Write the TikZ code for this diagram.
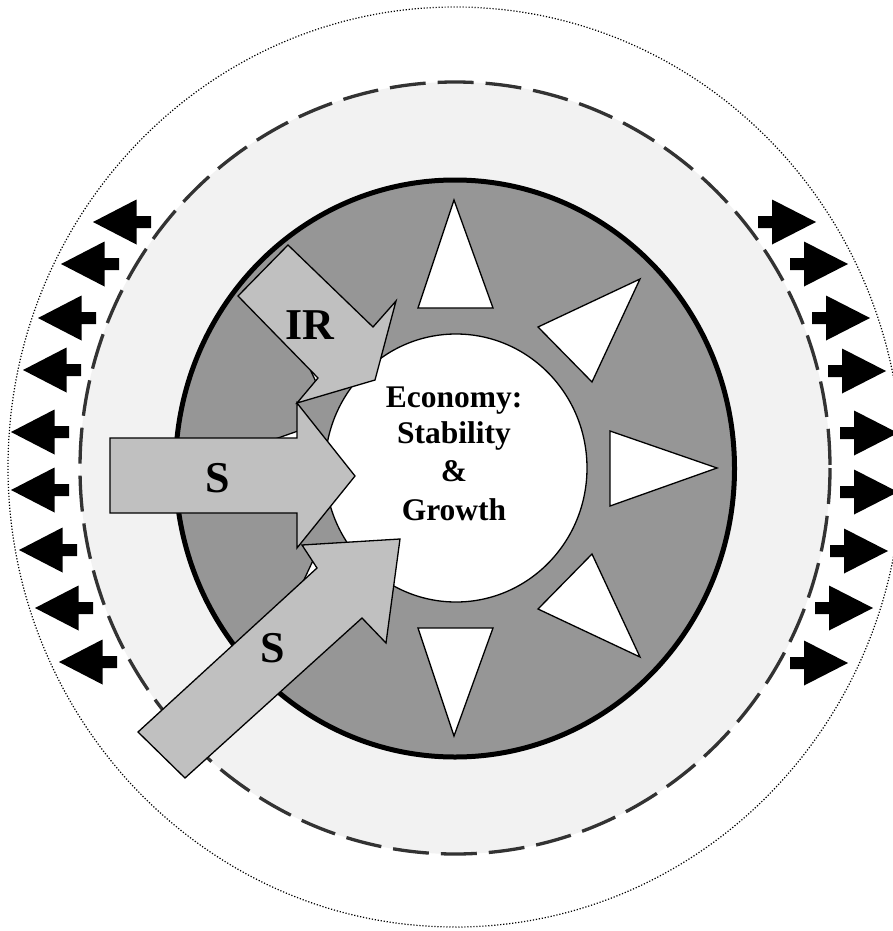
\documentclass[tikz,border=0pt]{standalone}
\usepackage{fontspec}
\setmainfont{Liberation Serif}
\definecolor{ringgray}{HTML}{F2F2F2}
\definecolor{diskgray}{HTML}{969696}
\definecolor{arrowgray}{HTML}{C0C0C0}
\definecolor{dashgray}{HTML}{333333}
\begin{document}
\begin{tikzpicture}[x=1pt,y=-1pt,
  dotring/.style={draw=black, line width=1.2pt, dash pattern=on 1.2pt off 1.8pt},
  dashring/.style={fill=ringgray, draw=dashgray, line width=3.3pt, dash pattern=on 36pt off 12pt},
  diskstyle/.style={fill=diskgray, draw=black, line width=5pt},
  corestyle/.style={fill=white, draw=black, line width=1.3pt},
  sunray/.style={fill=white, draw=black, line width=1.3pt, line join=miter},
  bigarrow/.style={fill=arrowgray, draw=black, line width=1.3pt, line join=miter},
  smallarrow/.style={fill=black},
  lbl/.style={font=\bfseries\fontsize{44}{44}\selectfont, anchor=base, inner sep=0pt},
  ctr/.style={font=\bfseries\fontsize{31.5}{31.5}\selectfont, anchor=base, inner sep=0pt}]
\clip (0,0) rectangle (893,931);
\fill[white] (0,0) rectangle (893,931);
% rings
\draw[dotring] (455,467) ellipse [x radius=447, y radius=460];
\filldraw[dashring] (455,468) ellipse [x radius=375, y radius=386];
\filldraw[diskstyle] (455,468.5) ellipse [x radius=279.5, y radius=288.5];
\filldraw[corestyle] (456,468) ellipse [x radius=131, y radius=134];
% sun rays
\filldraw[sunray] (454,200) -- (418,308) -- (493,308) -- cycle;
\filldraw[sunray] (640,279) -- (538,327) -- (592,382) -- cycle;
\filldraw[sunray] (717,468) -- (610,431) -- (610,506) -- cycle;
\filldraw[sunray] (640,657) -- (538,609) -- (592,554) -- cycle;
\filldraw[sunray] (454,736) -- (418,628) -- (493,628) -- cycle;
\filldraw[sunray] (268,279) -- (370,327) -- (316,382) -- cycle;
\filldraw[sunray] (192,468) -- (298,431) -- (298,506) -- cycle;
\filldraw[sunray] (268,657) -- (370,609) -- (316,554) -- cycle;
% big arrows
\filldraw[bigarrow] (238,296) -- (288,245) -- (373,327) -- (396,301) -- (375,380) -- (297,403) -- (318,378) -- cycle;
\filldraw[bigarrow] (110,438) -- (297,438) -- (297,403) -- (355,476) -- (297,548) -- (297,513) -- (110,513) -- cycle;
\filldraw[bigarrow] (138,732) -- (317,568) -- (302,545) -- (400,539) -- (386,643) -- (362,618) -- (185,778) -- cycle;
% small arrows left
\foreach \x/\y in {93/222, 61/264, 38/318, 23/370, 11/432, 11/490, 19/550, 35/608, 59/662}
  \fill[smallarrow] (\x,\y) -- ++(43.5,-22.5) -- ++(0,16.5) -- ++(14.5,0) -- ++(0,12) -- ++(-14.5,0) -- ++(0,16.5) -- cycle;
% small arrows right
\foreach \x/\y in {816/222, 848/264, 870/318, 886/371, 898/433, 898/492, 888/551, 873/608, 848/663}
  \fill[smallarrow] (\x,\y) -- ++(-44,-22.5) -- ++(0,16.5) -- ++(-14,0) -- ++(0,12) -- ++(14,0) -- ++(0,16.5) -- cycle;
% labels
\node[lbl] (ir) at (310,339) {IR};
\node[lbl] (s1) at (217.5,492) {S};
\node[lbl] (s2) at (273,662) {S};
\node[ctr] (c1) at (454,407.3) {Economy:};
\node[ctr] (c2) at (454,443.3) {Stability};
\node[ctr] (c3) at (454,481) {\&};
\node[ctr] (c4) at (454,520.7) {Growth};
\end{tikzpicture}
\end{document}
